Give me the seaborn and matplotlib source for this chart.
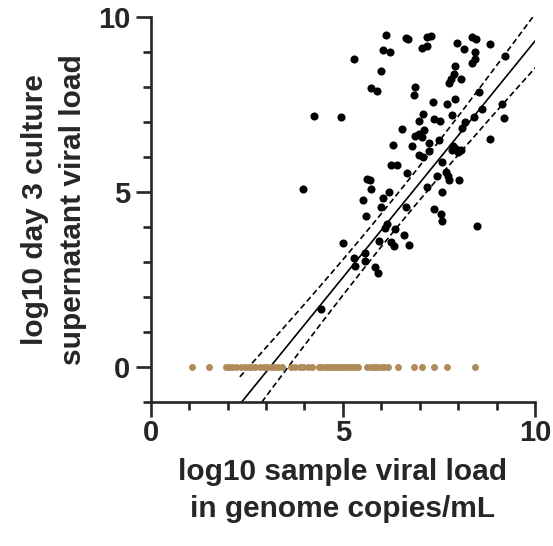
import numpy as np
import pandas as pd
import matplotlib
matplotlib.use("Agg")
import matplotlib.pyplot as plt
import seaborn as sns
from matplotlib.ticker import MultipleLocator

# ---- data ----
pos_x = [6.12, 6.63, 6.70, 7.20, 7.29, 8.36, 8.46, 7.96, 8.84, 8.15,
         6.05, 6.22, 7.05, 7.19, 8.45, 8.43, 8.35, 9.22, 5.29, 5.99,
         7.92, 7.89, 7.82, 7.77, 8.08, 5.74, 5.89, 6.89, 6.86, 8.55,
         7.91, 7.72, 7.35, 9.14, 8.62, 4.25, 4.94, 7.09, 6.97, 7.83,
         7.37, 7.52, 8.41, 8.17, 8.09, 9.20, 6.54, 7.12, 6.99, 6.87,
         7.05, 8.84, 7.49, 7.25, 6.31, 6.80, 7.87, 7.94, 7.83, 8.07,
         8.00, 7.25, 6.97, 7.09, 7.58, 6.24, 6.40, 6.67, 7.68, 7.74,
         7.45, 8.01, 7.77, 5.62, 5.70, 3.97, 5.74, 6.19, 7.18, 7.58,
         6.05, 5.53, 6.00, 6.63, 5.61, 7.37, 7.56, 7.58, 8.49, 6.14,
         6.09, 6.35, 6.59, 5.93, 6.24, 6.34, 6.71, 5.01, 5.29, 5.58,
         5.57, 5.32, 5.84, 5.91, 4.42]
pos_y = [9.49, 9.41, 9.36, 9.44, 9.47, 9.44, 9.36, 9.25, 9.24, 9.09,
         9.06, 9.00, 9.12, 9.18, 8.99, 8.79, 8.68, 8.89, 8.79, 8.45,
         8.59, 8.37, 8.23, 8.11, 8.23, 7.97, 7.88, 8.01, 7.77, 7.85,
         7.67, 7.51, 7.57, 7.52, 7.38, 7.16, 7.15, 7.22, 7.03, 7.19,
         7.08, 7.03, 7.13, 7.00, 6.84, 7.10, 6.81, 6.78, 6.66, 6.61,
         6.58, 6.50, 6.49, 6.41, 6.35, 6.31, 6.31, 6.24, 6.20, 6.20,
         6.13, 6.18, 6.06, 6.01, 5.87, 5.77, 5.78, 5.53, 5.57, 5.46,
         5.46, 5.34, 5.34, 5.37, 5.34, 5.09, 5.09, 4.99, 5.15, 5.01,
         4.82, 4.77, 4.56, 4.58, 4.31, 4.51, 4.37, 4.18, 4.04, 4.09,
         3.98, 3.95, 3.76, 3.61, 3.56, 3.45, 3.48, 3.53, 3.12, 3.25,
         3.03, 2.89, 2.85, 2.69, 1.65]

neg_x = [1.07, 1.52, 1.95, 2.05, 2.12, 2.22, 2.35, 2.45, 2.55, 2.62,
         2.72, 2.85, 2.95, 3.02, 3.12, 3.20, 3.30, 3.42, 3.65, 3.75,
         3.88, 3.95, 4.10, 4.20, 4.38, 4.45, 4.55, 4.62, 4.70, 4.78,
         4.85, 4.92, 5.00, 5.08, 5.15, 5.25, 5.32, 5.40, 5.62, 5.72,
         5.80, 5.90, 5.98, 6.08, 6.17, 6.44, 6.85, 7.07, 7.38, 7.70,
         8.45]
neg_y = [0.0] * len(neg_x)

# regression fit (slope, intercept) and confidence band (a, b, x_center)
fit_coef = [1.351, -4.197]
ci_params = [0.22, 0.026, 6.2]
fit_range = [2.32, 10.1]

x_ticks = [0, 5, 10]
y_ticks = [0, 5, 10]

BLACK = "#000000"
TAN = "#b08b5a"

sns.set_style("ticks")
plt.rcParams["font.family"] = ["Liberation Sans", "DejaVu Sans"]
plt.rcParams["font.weight"] = "bold"

fig = plt.figure(figsize=(5.53, 5.46), dpi=100)
ax = fig.add_axes([0.2725, 0.2637, 0.6950, 0.7052])

df_pos = pd.DataFrame({"x": pos_x, "y": pos_y})
df_neg = pd.DataFrame({"x": neg_x, "y": neg_y})

sns.scatterplot(data=df_neg, x="x", y="y", ax=ax, color=TAN, s=25,
                linewidth=0, zorder=3, clip_on=False)
sns.scatterplot(data=df_pos, x="x", y="y", ax=ax, color=BLACK, s=34,
                linewidth=0, zorder=4, clip_on=False)

xs = np.linspace(fit_range[0], fit_range[1], 300)
yfit = fit_coef[0] * xs + fit_coef[1]
half = np.sqrt(ci_params[0] + ci_params[1] * (xs - ci_params[2]) ** 2)
ax.plot(xs, yfit, color="black", lw=1.2, zorder=2)
ax.plot(xs, yfit + half, color="black", lw=1.2, ls=(0, (3.5, 2)), zorder=2)
ax.plot(xs, yfit - half, color="black", lw=1.2, ls=(0, (3.5, 2)), zorder=2)

ax.set_xlim(0, 10)
ax.set_ylim(-1, 10)
ax.set_xticks(x_ticks)
ax.set_yticks(y_ticks)
ax.xaxis.set_minor_locator(MultipleLocator(1))
ax.yaxis.set_minor_locator(MultipleLocator(1))
ax.tick_params(which="major", length=10.5, width=1.9, labelsize=21)
ax.tick_params(axis="x", which="major", pad=2)
ax.tick_params(axis="y", which="major", pad=4)
ax.tick_params(which="minor", length=6, width=1.9)
for lab in ax.get_xticklabels() + ax.get_yticklabels():
    lab.set_fontweight("bold")

sns.despine(ax=ax)
for sp in ["left", "bottom"]:
    ax.spines[sp].set_linewidth(1.9)

ax.set_xlabel("log10 sample viral load\nin genome copies/mL",
              fontsize=21.5, fontweight="bold", labelpad=8, linespacing=1.4)
ax.set_ylabel("log10 day 3 culture\nsupernatant viral load",
              fontsize=21.5, fontweight="bold", labelpad=8, linespacing=1.45)

fig.savefig("out.png", dpi=100)
